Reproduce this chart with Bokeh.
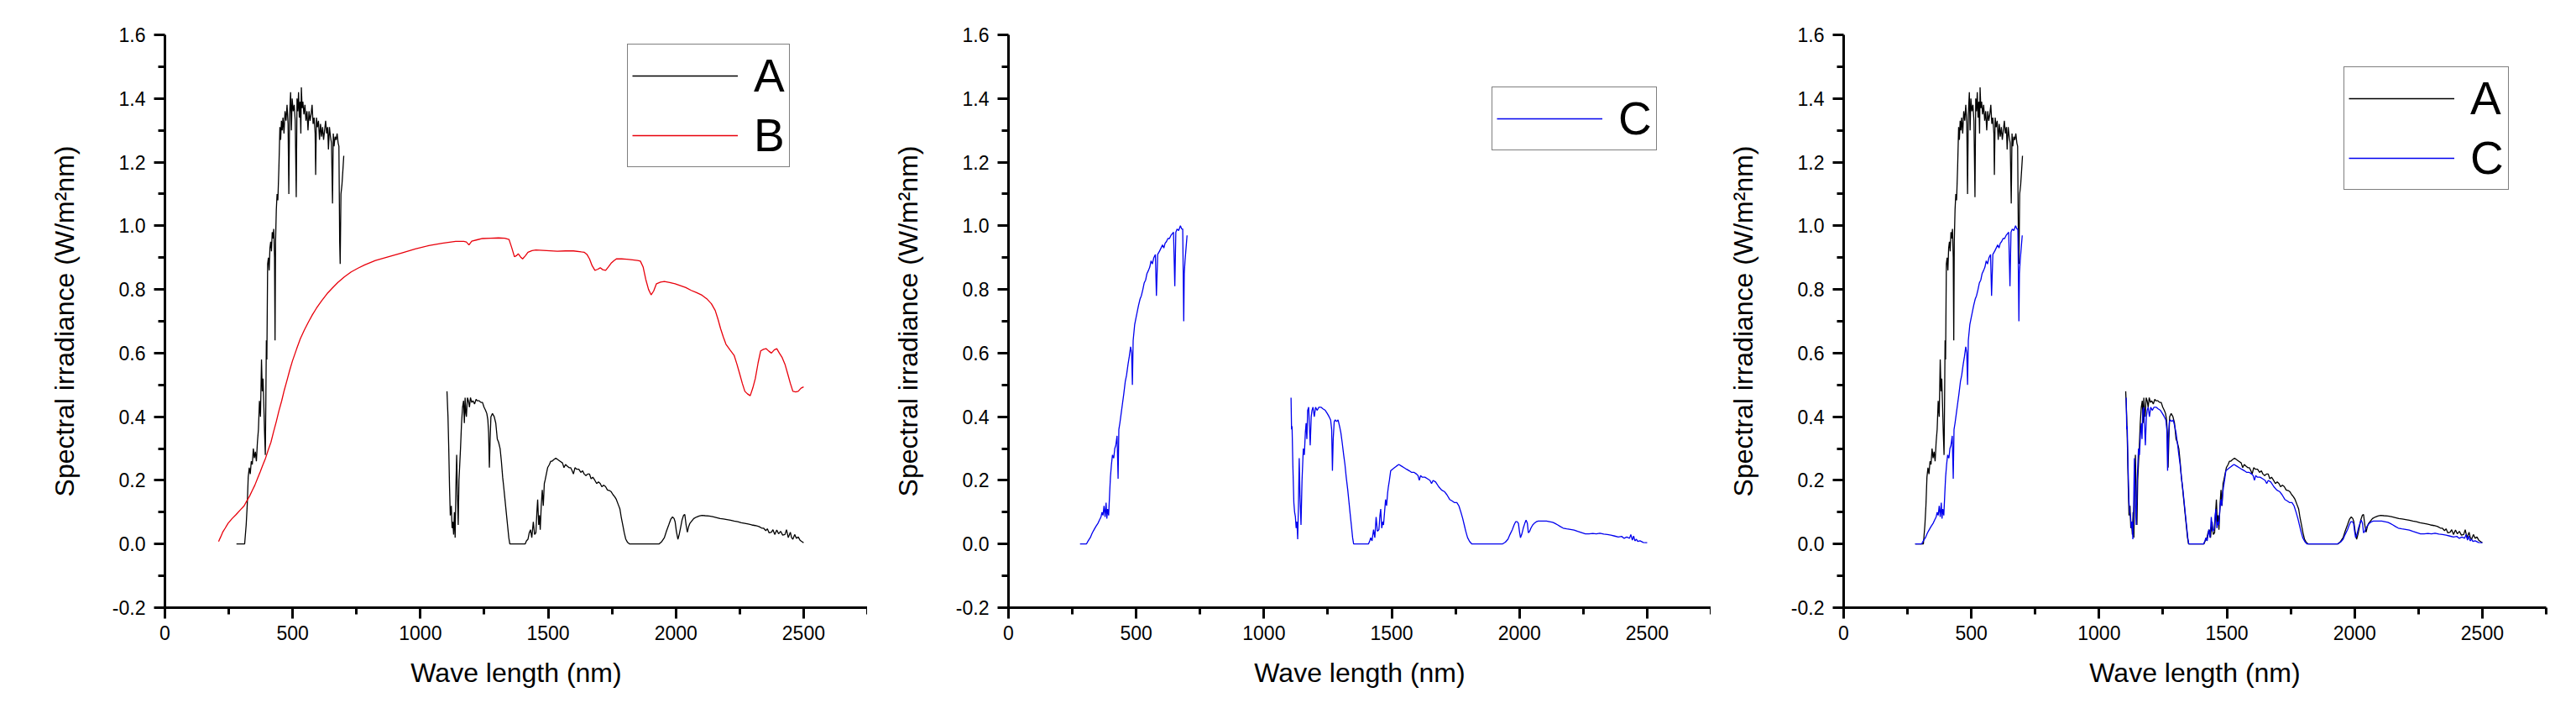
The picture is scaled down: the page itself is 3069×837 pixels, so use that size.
import numpy as np
from bokeh.plotting import figure
from bokeh.models import Range1d, FixedTicker, NumeralTickFormatter, Legend, LegendItem, ColumnDataSource
from bokeh.layouts import row
from bokeh.embed import file_html
from bokeh.resources import INLINE

# ---------------- data ----------------
# Series A : visible part
a_vis_nm = [280, 300, 312, 318, 322, 326, 330, 334, 338, 342, 346, 350, 354, 358, 362, 366, 370, 374, 378, 381,
            384, 387, 390, 393, 395, 397, 399, 402, 405, 408, 411, 414, 417, 420, 423, 426, 429, 431, 433, 436,
            439, 442, 446, 450, 453, 456, 459, 462, 466, 470, 474, 478, 482, 485, 488, 492, 495, 498, 502, 506,
            510, 514, 517, 520, 523, 526, 529, 532, 534, 537, 540, 544, 548, 552, 556, 560, 564, 568, 572, 576,
            580, 584, 588, 590, 593, 597, 601, 605, 609, 613, 617, 621, 625, 629, 633, 637, 640, 644, 648, 652,
            656, 659, 662, 666, 670, 674, 678, 681, 684, 686, 689, 693, 697, 700]
a_vis_val = [0.0, 0.0, 0.0, 0.06, 0.12, 0.21, 0.24, 0.22, 0.26, 0.25, 0.30, 0.27, 0.29, 0.26, 0.32, 0.36, 0.45, 0.40, 0.58, 0.48,
             0.52, 0.44, 0.35, 0.28, 0.45, 0.64, 0.58, 0.88, 0.90, 0.86, 0.93, 0.95, 0.92, 0.98, 0.96, 0.99, 0.90, 0.64, 0.95, 1.05,
             1.10, 1.08, 1.18, 1.31, 1.27, 1.33, 1.30, 1.34, 1.29, 1.36, 1.33, 1.38, 1.32, 1.10, 1.35, 1.42, 1.30, 1.40, 1.36, 1.38,
             1.33, 1.09, 1.40, 1.36, 1.42, 1.34, 1.39, 1.29, 1.435, 1.37, 1.39, 1.35, 1.38, 1.33, 1.36, 1.30, 1.36, 1.33, 1.35, 1.38,
             1.32, 1.34, 1.29, 1.16, 1.34, 1.31, 1.33, 1.27, 1.32, 1.28, 1.31, 1.27, 1.30, 1.33, 1.29, 1.31, 1.24, 1.31, 1.28, 1.26,
             1.07, 1.29, 1.25, 1.28, 1.27, 1.29, 1.26, 1.25, 0.95, 0.88, 1.10, 1.13, 1.18, 1.22]
# Series A : near-infrared part
a_nir_nm = [1104, 1108, 1111, 1114, 1117, 1121, 1124, 1127, 1130, 1133, 1136, 1139, 1142, 1145, 1148, 1151, 1154, 1157, 1161, 1165,
            1169, 1172, 1175, 1178, 1180, 1184, 1188, 1192, 1196, 1201, 1206, 1212, 1218, 1222, 1230, 1237, 1243, 1249, 1255, 1260,
            1264, 1267, 1270, 1273, 1276, 1282, 1289, 1295, 1301, 1306, 1312, 1317, 1322, 1326, 1331, 1336, 1341, 1346, 1350, 1380,
            1410, 1415, 1421, 1426, 1431, 1436, 1442, 1447, 1452, 1456, 1459, 1463, 1466, 1469, 1473, 1477, 1481, 1485, 1488, 1493,
            1498, 1505, 1510, 1515, 1522, 1530, 1538, 1547, 1556, 1562, 1568, 1575, 1582, 1588, 1594, 1599, 1605, 1612, 1620, 1628,
            1635, 1641, 1648, 1655, 1662, 1668, 1675, 1683, 1690, 1697, 1704, 1710, 1718, 1725, 1732, 1740, 1746, 1754, 1761, 1767,
            1774, 1781, 1786, 1792, 1798, 1804, 1811, 1819, 1880, 1934, 1945, 1955, 1963, 1972, 1980, 1987, 1993, 1997, 2002, 2008,
            2013, 2018, 2024, 2030, 2035, 2040, 2045, 2050, 2055, 2060, 2070, 2081, 2091, 2102, 2115, 2130, 2144, 2160, 2173, 2186,
            2200, 2214, 2228, 2242, 2256, 2270, 2283, 2297, 2311, 2325, 2336, 2343, 2352, 2358, 2365, 2374, 2380, 2387, 2395, 2402,
            2410, 2418, 2427, 2433, 2440, 2448, 2453, 2458, 2465, 2472, 2479, 2486, 2493, 2500]
a_nir_val = [0.48, 0.40, 0.30, 0.18, 0.09, 0.12, 0.05, 0.07, 0.03, 0.10, 0.02, 0.18, 0.28, 0.15, 0.06, 0.20, 0.25, 0.30, 0.38, 0.43,
             0.45, 0.38, 0.46, 0.41, 0.40, 0.46, 0.45, 0.43, 0.46, 0.445, 0.45, 0.44, 0.455, 0.45, 0.45, 0.445, 0.445, 0.43, 0.42, 0.41,
             0.39, 0.35, 0.24, 0.33, 0.40, 0.41, 0.40, 0.38, 0.33, 0.32, 0.30, 0.26, 0.21, 0.18, 0.14, 0.10, 0.06, 0.02, 0.0, 0.0,
             0.0, 0.01, 0.015, 0.035, 0.045, 0.02, 0.07, 0.03, 0.035, 0.10, 0.14, 0.06, 0.09, 0.045, 0.12, 0.17, 0.12, 0.19, 0.20, 0.22,
             0.24, 0.25, 0.26, 0.26, 0.265, 0.27, 0.265, 0.26, 0.255, 0.24, 0.25, 0.245, 0.24, 0.24, 0.23, 0.22, 0.24, 0.235, 0.235, 0.225,
             0.23, 0.22, 0.215, 0.22, 0.22, 0.205, 0.21, 0.20, 0.19, 0.195, 0.19, 0.18, 0.185, 0.18, 0.17, 0.168, 0.165, 0.155, 0.148, 0.14,
             0.125, 0.11, 0.085, 0.06, 0.035, 0.015, 0.005, 0.0, 0.0, 0.0, 0.008, 0.02, 0.04, 0.06, 0.078, 0.085, 0.08, 0.07, 0.04, 0.015,
             0.03, 0.05, 0.075, 0.09, 0.093, 0.06, 0.037, 0.055, 0.065, 0.07, 0.08, 0.085, 0.088, 0.09, 0.089, 0.088, 0.086, 0.083, 0.08, 0.079,
             0.077, 0.075, 0.072, 0.07, 0.067, 0.065, 0.063, 0.06, 0.058, 0.055, 0.05, 0.05, 0.042, 0.048, 0.035, 0.037, 0.045, 0.03, 0.044, 0.032,
             0.04, 0.028, 0.03, 0.045, 0.02, 0.037, 0.02, 0.015, 0.03, 0.018, 0.022, 0.012, 0.008, 0.004]

# Series B
b_nm = [210, 218, 226, 236, 247, 263, 279, 295, 310, 320, 331, 341, 352, 362, 373, 383, 394, 404, 415, 425,
        436, 446, 457, 467, 478, 488, 499, 515, 530, 546, 562, 577, 593, 614, 635, 656, 677, 703, 729, 756,
        782, 824, 876, 928, 980, 1033, 1085, 1138, 1170, 1180, 1190, 1201, 1222, 1243, 1275, 1306, 1330, 1347, 1358, 1368,
        1376, 1383, 1392, 1400, 1410, 1421, 1437, 1452, 1494, 1536, 1568, 1599, 1630, 1641, 1652, 1662, 1672, 1683, 1693, 1704,
        1714, 1725, 1735, 1746, 1757, 1767, 1788, 1808, 1830, 1850, 1861, 1872, 1882, 1893, 1903, 1913, 1924, 1940, 1955, 1976,
        1997, 2018, 2039, 2060, 2081, 2102, 2123, 2139, 2154, 2165, 2175, 2186, 2196, 2212, 2228, 2239, 2249, 2260, 2270, 2280,
        2291, 2301, 2311, 2322, 2332, 2343, 2353, 2364, 2374, 2385, 2395, 2405, 2416, 2427, 2437, 2448, 2458, 2469, 2479, 2490, 2500]
b_val = [0.008, 0.022, 0.037, 0.05, 0.065, 0.08, 0.093, 0.107, 0.12, 0.135, 0.15, 0.167, 0.185, 0.205, 0.227, 0.248, 0.27, 0.295, 0.32, 0.352,
         0.385, 0.418, 0.45, 0.483, 0.515, 0.545, 0.575, 0.612, 0.645, 0.673, 0.698, 0.72, 0.741, 0.765, 0.787, 0.805, 0.822, 0.84, 0.855, 0.867,
         0.877, 0.891, 0.903, 0.915, 0.927, 0.938, 0.945, 0.951, 0.951, 0.949, 0.94, 0.952, 0.956, 0.96, 0.961, 0.962, 0.961, 0.957, 0.93, 0.903,
         0.906, 0.912, 0.902, 0.896, 0.905, 0.917, 0.922, 0.924, 0.922, 0.92, 0.921, 0.921, 0.918, 0.917, 0.91, 0.896, 0.875, 0.86, 0.863, 0.868,
         0.862, 0.86, 0.87, 0.882, 0.89, 0.896, 0.896, 0.895, 0.893, 0.891, 0.889, 0.87, 0.832, 0.80, 0.783, 0.795, 0.818, 0.823, 0.825, 0.822,
         0.818, 0.812, 0.806, 0.797, 0.79, 0.782, 0.769, 0.755, 0.734, 0.706, 0.677, 0.65, 0.628, 0.61, 0.593, 0.565, 0.537, 0.505, 0.48, 0.472,
         0.466, 0.49, 0.52, 0.57, 0.607, 0.612, 0.614, 0.606, 0.60, 0.61, 0.614, 0.60, 0.586, 0.565, 0.537, 0.505, 0.48, 0.478, 0.48, 0.49, 0.494]

# Series C : visible part
c_vis_nm = [280, 290, 305, 312, 320, 328, 335, 342, 350, 356, 362, 366, 370, 374, 378, 382, 385, 388, 392, 396,
            399, 403, 407, 412, 416, 420, 425, 429, 432, 436, 441, 446, 451, 457, 462, 468, 473, 478, 482, 485,
            488, 494, 499, 504, 509, 515, 520, 526, 531, 537, 542, 548, 553, 558, 563, 569, 575, 579, 584, 591,
            597, 603, 608, 613, 618, 624, 630, 636, 641, 646, 651, 655, 660, 666, 673, 678, 682, 686, 688, 691, 695, 699]
c_vis_val = [0.0, 0.0, 0.0, 0.01, 0.02, 0.035, 0.045, 0.055, 0.065, 0.075, 0.085, 0.10, 0.09, 0.12, 0.085, 0.13, 0.08, 0.11, 0.09, 0.16,
             0.21, 0.25, 0.28, 0.27, 0.30, 0.31, 0.34, 0.205, 0.36, 0.38, 0.41, 0.44, 0.47, 0.51, 0.53, 0.565, 0.59, 0.62, 0.60, 0.50,
             0.64, 0.69, 0.71, 0.73, 0.75, 0.77, 0.78, 0.80, 0.82, 0.83, 0.85, 0.86, 0.87, 0.89, 0.88, 0.90, 0.91, 0.78, 0.91, 0.92,
             0.93, 0.94, 0.93, 0.945, 0.95, 0.96, 0.96, 0.97, 0.975, 0.98, 0.81, 0.98, 0.99, 0.985, 1.0, 0.99, 0.99, 0.70, 0.85, 0.89, 0.93, 0.97]
# Series C : near-infrared part
c_nir_nm = [1106, 1108, 1110, 1113, 1117, 1120, 1123, 1126, 1129, 1132, 1135, 1138, 1141, 1145, 1149, 1154, 1158, 1162, 1165, 1168,
            1171, 1175, 1178, 1181, 1185, 1188, 1192, 1197, 1202, 1208, 1215, 1223, 1231, 1240, 1248, 1255, 1261, 1265, 1268, 1271,
            1275, 1279, 1285, 1290, 1296, 1301, 1306, 1312, 1317, 1322, 1328, 1333, 1338, 1342, 1347, 1351, 1380, 1409, 1414, 1418,
            1423, 1429, 1434, 1439, 1444, 1450, 1454, 1457, 1461, 1465, 1468, 1472, 1476, 1480, 1484, 1487, 1491, 1496, 1503, 1511,
            1519, 1528, 1538, 1548, 1558, 1569, 1578, 1588, 1597, 1603, 1608, 1613, 1620, 1630, 1640, 1650, 1656, 1662, 1672, 1684,
            1695, 1706, 1716, 1727, 1737, 1746, 1755, 1763, 1771, 1778, 1784, 1790, 1797, 1805, 1814, 1880, 1933, 1945, 1955, 1963,
            1972, 1979, 1985, 1991, 1996, 2000, 2004, 2009, 2015, 2021, 2026, 2031, 2035, 2040, 2045, 2052, 2058, 2066, 2074, 2085,
            2095, 2106, 2118, 2130, 2139, 2150, 2160, 2171, 2185, 2200, 2214, 2228, 2243, 2258, 2272, 2287, 2301, 2315, 2330, 2344,
            2358, 2373, 2387, 2400, 2410, 2420, 2431, 2436, 2442, 2447, 2452, 2458, 2463, 2472, 2485, 2500]
c_nir_val = [0.46, 0.36, 0.37, 0.25, 0.13, 0.10, 0.086, 0.05, 0.07, 0.015, 0.12, 0.27, 0.15, 0.06, 0.20, 0.30, 0.28, 0.35, 0.38, 0.33,
             0.42, 0.43, 0.37, 0.31, 0.40, 0.42, 0.43, 0.40, 0.43, 0.42, 0.43, 0.43, 0.425, 0.42, 0.41, 0.40, 0.39, 0.36, 0.23, 0.33,
             0.385, 0.39, 0.385, 0.39, 0.37, 0.35, 0.32, 0.28, 0.25, 0.21, 0.17, 0.13, 0.09, 0.06, 0.02, 0.0, 0.0, 0.0, 0.01, 0.02,
             0.01, 0.045, 0.02, 0.085, 0.04, 0.045, 0.09, 0.11, 0.05, 0.07, 0.06, 0.10, 0.14, 0.12, 0.16, 0.18, 0.20, 0.23, 0.235, 0.24,
             0.245, 0.25, 0.245, 0.24, 0.235, 0.23, 0.225, 0.225, 0.22, 0.215, 0.20, 0.215, 0.21, 0.21, 0.205, 0.20, 0.19, 0.20, 0.195, 0.18,
             0.17, 0.165, 0.155, 0.14, 0.135, 0.13, 0.13, 0.12, 0.10, 0.08, 0.06, 0.04, 0.02, 0.008, 0.0, 0.0, 0.0, 0.006, 0.015, 0.03,
             0.045, 0.06, 0.07, 0.07, 0.065, 0.04, 0.02, 0.03, 0.05, 0.065, 0.075, 0.065, 0.035, 0.04, 0.05, 0.06, 0.065, 0.07, 0.072, 0.072,
             0.072, 0.072, 0.07, 0.068, 0.065, 0.06, 0.055, 0.05, 0.048, 0.046, 0.044, 0.04, 0.036, 0.032, 0.032, 0.033, 0.032, 0.034, 0.031, 0.03,
             0.028, 0.025, 0.022, 0.024, 0.018, 0.022, 0.018, 0.03, 0.012, 0.025, 0.01, 0.015, 0.008, 0.01, 0.005, 0.004]

x_major = [0, 500, 1000, 1500, 2000, 2500]
x_minor = [250, 750, 1250, 1750, 2250, 2750]
y_major = [-0.2, 0.0, 0.2, 0.4, 0.6, 0.8, 1.0, 1.2, 1.4, 1.6]
y_minor = [-0.1, 0.1, 0.3, 0.5, 0.7, 0.9, 1.1, 1.3, 1.5]
x_title = "Wave length (nm)"
y_title = "Spectral irradiance (W/m\u00b2nm)"
colors = {"A": "#000000", "B": "#e8000b", "C": "#0000ee"}

FONT = "Liberation Sans"


def joined(nm1, v1, nm2=None, v2=None):
    if nm2 is None:
        return ColumnDataSource(dict(x=np.array(nm1, float), y=np.array(v1, float)))
    x = np.concatenate([np.array(nm1, float), [np.nan], np.array(nm2, float)])
    y = np.concatenate([np.array(v1, float), [np.nan], np.array(v2, float)])
    return ColumnDataSource(dict(x=x, y=y))


def make_fig(width, left, right):
    p = figure(width=width, height=837, x_range=Range1d(0, 2750), y_range=Range1d(-0.2, 1.6),
               output_backend="svg", toolbar_location=None,
               min_border_left=left, min_border_right=right, min_border_top=41, min_border_bottom=114)
    p.outline_line_color = None
    p.grid.visible = False
    p.background_fill_color = "white"
    p.border_fill_color = "white"
    p.xaxis.ticker = FixedTicker(ticks=x_major, minor_ticks=x_minor)
    p.yaxis.ticker = FixedTicker(ticks=y_major, minor_ticks=y_minor)
    p.yaxis.formatter = NumeralTickFormatter(format="0.0")
    for ax in (p.xaxis[0], p.yaxis[0]):
        ax.axis_line_width = 3
        ax.axis_line_color = "black"
        ax.major_tick_line_width = 3
        ax.minor_tick_line_width = 3
        ax.major_tick_line_color = "black"
        ax.minor_tick_line_color = "black"
        ax.major_tick_out = 13
        ax.major_tick_in = 0
        ax.minor_tick_out = 8
        ax.minor_tick_in = 0
        ax.major_label_text_font = FONT
        ax.major_label_text_font_size = "23px"
        ax.major_label_text_color = "black"
        ax.axis_label_text_font = FONT
        ax.axis_label_text_font_size = "32px"
        ax.axis_label_text_font_style = "normal"
        ax.axis_label_text_color = "black"
    p.xaxis.axis_label = x_title
    p.yaxis.axis_label = y_title
    p.xaxis.major_label_standoff = 8
    p.yaxis.major_label_standoff = 10
    p.xaxis.axis_label_standoff = 18
    p.yaxis.axis_label_standoff = 36
    return p


def add_legend(p, items, loc):
    leg = Legend(items=items, location=loc, margin=0, padding=5, spacing=7,
                 label_text_font=FONT, label_text_font_size="55px", label_text_color="black",
                 label_height=60, glyph_height=60, glyph_width=126, label_standoff=19,
                 border_line_color="black", border_line_width=1.5, background_fill_alpha=1.0)
    p.add_layout(leg)


src_a = joined(a_vis_nm, a_vis_val, a_nir_nm, a_nir_val)
src_b = joined(b_nm, b_val)
src_c = joined(c_vis_nm, c_vis_val, c_nir_nm, c_nir_val)

LW = 1.3

# Panel 1: A and B
p1 = make_fig(1033, 196, 0)
ra1 = p1.line("x", "y", source=src_a, line_color=colors["A"], line_width=LW)
rb1 = p1.line("x", "y", source=src_b, line_color=colors["B"], line_width=LW)
add_legend(p1, [LegendItem(label="A", renderers=[ra1]), LegendItem(label="B", renderers=[rb1])], (551, 524))

# Panel 2: C
p2 = make_fig(1005, 168, 0)
rc2 = p2.line("x", "y", source=src_c, line_color=colors["C"], line_width=LW)
add_legend(p2, [LegendItem(label="C", renderers=[rc2])], (576, 544))

# Panel 3: A and C
p3 = make_fig(1031, 158, 36)
ra3 = p3.line("x", "y", source=src_a, line_color=colors["A"], line_width=LW)
rc3 = p3.line("x", "y", source=src_c, line_color=colors["C"], line_width=LW)
add_legend(p3, [LegendItem(label="A", renderers=[ra3]), LegendItem(label="C", renderers=[rc3])], (596, 497))

layout = row(p1, p2, p3)
open("out.html", "w").write(file_html(layout, INLINE))
